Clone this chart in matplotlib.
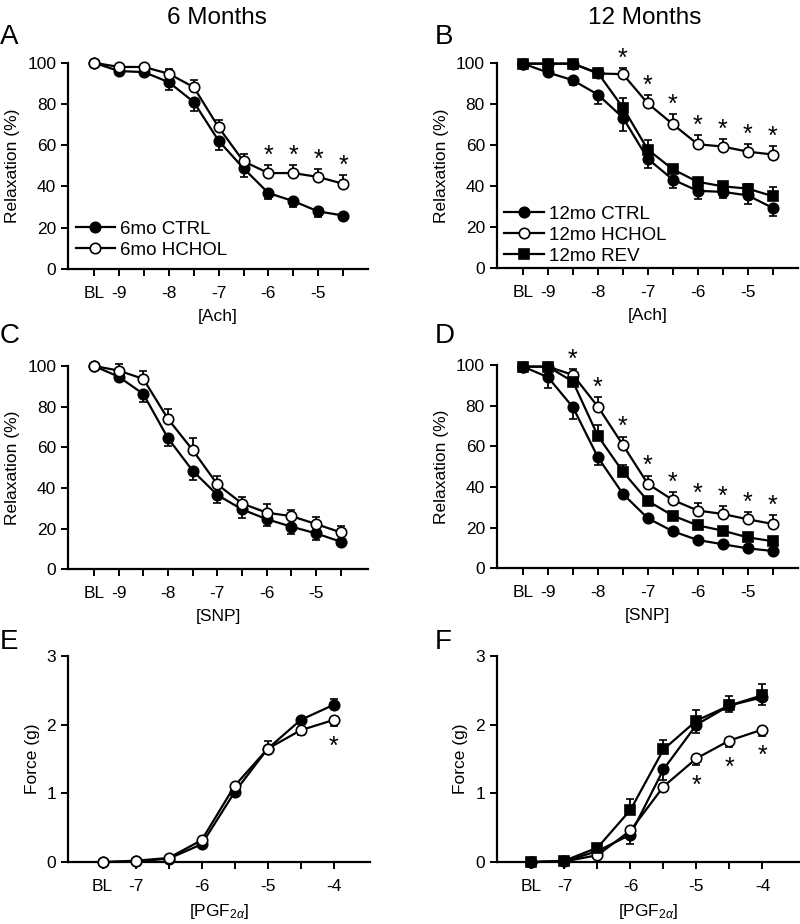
import matplotlib
matplotlib.use('Agg')
import matplotlib.pyplot as plt
import numpy as np

plt.rcParams['font.family'] = ['Liberation Sans', 'DejaVu Sans']
plt.rcParams['mathtext.fontset'] = 'custom'
plt.rcParams['mathtext.rm'] = 'Liberation Sans'
plt.rcParams['mathtext.it'] = 'Liberation Sans:italic'

# Konzentrationen (Index 0 = BL)
ach_labels = ['BL', '-9', '', '-8', '', '-7', '', '-6', '', '-5', '']
pgf_labels = ['BL', '-7', '', '-6', '', '-5', '', '-4']

# A: 6 Monate, Ach
a_ctrl = [100, 96, 95.5, 90.6, 81, 62.2, 48.8, 36.8, 32.9, 27.9, 25.9]
a_ctrl_sem = [0, 0.5, 0.8, 3.6, 4.5, 4.3, 4.2, 2.9, 2.9, 2.5, 2.1]
a_hchol = [100, 98, 98, 94.7, 88.2, 68.7, 52.2, 46.5, 46.5, 44.6, 41.3]
a_hchol_sem = [0, 0.5, 0.6, 2.5, 3.7, 3.7, 3.7, 3.7, 3.7, 3.9, 4.4]
a_sig = [7, 8, 9, 10]

# B: 12 Monate, Ach
b_ctrl = [99.6, 95.3, 91.5, 84.5, 73.3, 53.2, 43.1, 37.6, 37.1, 35.4, 29.3]
b_ctrl_sem = [0, 0.8, 2.5, 4.5, 6.3, 4.7, 4.0, 4.0, 3.0, 4.0, 4.0]
b_hchol = [99.6, 99.6, 99.6, 94.8, 94.5, 80.2, 70.1, 60.3, 59.2, 56.7, 55.3]
b_hchol_sem = [0, 0.5, 0.5, 1.5, 3.1, 4.0, 4.9, 4.7, 3.8, 3.6, 4.0]
b_rev = [99.6, 99.6, 99.6, 95.1, 78.2, 57.7, 48.1, 42.0, 39.8, 38.7, 35.0]
b_rev_sem = [0, 0.5, 0.5, 2.0, 4.8, 4.6, 2.0, 1.5, 1.3, 2.4, 4.5]
b_sig = [4, 5, 6, 7, 8, 9, 10]

# C: 6 Monate, SNP
c_ctrl = [100, 94.7, 86.2, 64.4, 48.4, 36.5, 29.4, 24.6, 20.9, 17.6, 13.5]
c_ctrl_sem = [0, 1.0, 3.8, 3.8, 4.6, 3.8, 4.1, 3.4, 3.7, 3.3, 1.0]
c_hchol = [100, 97.7, 93.6, 73.9, 58.6, 41.7, 32.3, 27.8, 26.1, 22.2, 18.1]
c_hchol_sem = [0, 3.0, 3.9, 4.8, 5.8, 4.1, 3.0, 4.2, 2.9, 3.6, 3.1]

# D: 12 Monate, SNP
d_ctrl = [99.2, 94.0, 79.2, 54.6, 36.6, 24.6, 18.2, 13.9, 11.8, 9.8, 8.5]
d_ctrl_sem = [0, 5.5, 5.8, 3.8, 1.0, 1.0, 1.0, 0.8, 0.8, 0.8, 0.8]
d_hchol = [99.2, 99.2, 95.1, 79.5, 60.7, 41.5, 33.6, 28.4, 26.7, 24.1, 21.8]
d_hchol_sem = [0, 0.5, 2.8, 4.9, 4.1, 4.1, 3.8, 3.9, 4.1, 3.4, 4.4]
d_rev = [99.2, 99.2, 91.8, 65.1, 47.5, 33.1, 25.9, 21.1, 18.5, 15.2, 13.3]
d_rev_sem = [0, 0.5, 1.0, 5.4, 3.3, 1.0, 1.0, 1.0, 1.0, 1.0, 1.0]
d_sig = [2, 3, 4, 5, 6, 7, 8, 9, 10]

# E: 6 Monate, PGF2a
e_ctrl = [0, 0.01, 0.05, 0.26, 1.02, 1.65, 2.07, 2.29]
e_ctrl_sem = [0, 0.01, 0.02, 0.03, 0.04, 0.12, 0.04, 0.09]
e_hchol = [0, 0.02, 0.06, 0.32, 1.11, 1.65, 1.92, 2.07]
e_hchol_sem = [0, 0.01, 0.02, 0.03, 0.04, 0.05, 0.07, 0.09]
e_sig = [7]

# F: 12 Monate, PGF2a
f_ctrl = [0, 0.01, 0.16, 0.40, 1.35, 2.00, 2.28, 2.40]
f_ctrl_sem = [0, 0.01, 0.03, 0.13, 0.15, 0.12, 0.10, 0.12]
f_hchol = [0, 0.01, 0.10, 0.46, 1.10, 1.51, 1.77, 1.93]
f_hchol_sem = [0, 0.01, 0.02, 0.04, 0.07, 0.10, 0.10, 0.09]
f_rev = [0, 0.02, 0.21, 0.76, 1.64, 2.06, 2.28, 2.43]
f_rev_sem = [0, 0.01, 0.03, 0.16, 0.14, 0.16, 0.14, 0.17]
f_sig = [5, 6, 7]


def kurve(ax, werte, sem, art, richtung):
    x = np.arange(len(werte))
    sem = np.array(sem)
    null = np.zeros_like(sem)
    yerr = [null, sem] if richtung == 'oben' else [sem, null]
    if art == 'ctrl':
        stil = dict(marker='o', mfc='black', mec='black', zorder=3)
    elif art == 'hchol':
        stil = dict(marker='o', mfc='white', mec='black', zorder=4)
    else:
        stil = dict(marker='s', mfc='black', mec='black', zorder=5)
    c = ax.errorbar(x, werte, yerr=yerr, color='black', lw=1.6, ms=7.5, mew=1.2,
                    capsize=3, elinewidth=1.3, capthick=1.3, clip_on=False,
                    **stil)
    return c[0]


def sterne(ax, werte, sem, idx, richtung):
    for i in idx:
        if richtung == 'oben':
            ax.annotate('*', (i, werte[i] + sem[i]), xytext=(0, -2),
                        textcoords='offset points', ha='center', va='bottom',
                        fontsize=18)
        else:
            ax.annotate('*', (i, werte[i] - sem[i]), xytext=(0, -6),
                        textcoords='offset points', ha='center', va='top',
                        fontsize=18)


def achse(ax, labels, ymax, yticks, ylabel, xlabel, xmax):
    ax.set_xlim(-1.05, xmax)
    ax.set_ylim(0, ymax)
    ax.set_xticks(np.arange(len(labels)))
    ax.set_xticklabels(labels)
    ax.set_yticks(yticks)
    ax.set_ylabel(ylabel, fontsize=12.5, labelpad=5)
    ax.set_xlabel(xlabel, fontsize=12.5, labelpad=6)
    ax.spines['top'].set_visible(False)
    ax.spines['right'].set_visible(False)
    ax.spines['left'].set_linewidth(1.6)
    ax.spines['bottom'].set_linewidth(1.6)
    ax.tick_params(width=1.4, length=5, labelsize=12.5)
    ax.tick_params(axis='x', pad=7)


def legende(ax, handles, labels, y0):
    ax.legend(handles, labels, loc='lower left', bbox_to_anchor=(0.0, y0),
              frameon=False, fontsize=13.5, handlelength=2.1,
              handletextpad=0.3, labelspacing=0.2, borderaxespad=0)


fig = plt.figure(figsize=(8, 9.24), dpi=100)
axA = fig.add_axes([0.085, 0.709, 0.375, 0.223])
axB = fig.add_axes([0.621, 0.710, 0.376, 0.222])
axC = fig.add_axes([0.085, 0.384, 0.375, 0.220])
axD = fig.add_axes([0.621, 0.385, 0.376, 0.220])
axE = fig.add_axes([0.085, 0.067, 0.3775, 0.223])
axF = fig.add_axes([0.621, 0.067, 0.3775, 0.223])

# A
h1 = kurve(axA, a_ctrl, a_ctrl_sem, 'ctrl', 'unten')
h2 = kurve(axA, a_hchol, a_hchol_sem, 'hchol', 'oben')
sterne(axA, a_hchol, a_hchol_sem, a_sig, 'oben')
achse(axA, ach_labels, 100, range(0, 101, 20), 'Relaxation (%)', '[Ach]', 11)
legende(axA, [h1, h2], ['6mo CTRL', '6mo HCHOL'], 0.012)

# B
h1 = kurve(axB, b_ctrl, b_ctrl_sem, 'ctrl', 'unten')
h2 = kurve(axB, b_hchol, b_hchol_sem, 'hchol', 'oben')
h3 = kurve(axB, b_rev, b_rev_sem, 'rev', 'oben')
sterne(axB, b_hchol, b_hchol_sem, b_sig, 'oben')
achse(axB, ach_labels, 100, range(0, 101, 20), 'Relaxation (%)', '[Ach]', 11)
legende(axB, [h1, h2, h3], ['12mo CTRL', '12mo HCHOL', '12mo REV'], -0.02)

# C
kurve(axC, c_ctrl, c_ctrl_sem, 'ctrl', 'unten')
kurve(axC, c_hchol, c_hchol_sem, 'hchol', 'oben')
achse(axC, ach_labels, 100, range(0, 101, 20), 'Relaxation (%)', '[SNP]', 11.1)

# D
kurve(axD, d_ctrl, d_ctrl_sem, 'ctrl', 'unten')
kurve(axD, d_hchol, d_hchol_sem, 'hchol', 'oben')
kurve(axD, d_rev, d_rev_sem, 'rev', 'oben')
sterne(axD, d_hchol, d_hchol_sem, d_sig, 'oben')
achse(axD, ach_labels, 100, range(0, 101, 20), 'Relaxation (%)', '[SNP]', 11)

# E
kurve(axE, e_ctrl, e_ctrl_sem, 'ctrl', 'oben')
kurve(axE, e_hchol, e_hchol_sem, 'hchol', 'unten')
sterne(axE, e_hchol, e_hchol_sem, e_sig, 'unten')
achse(axE, pgf_labels, 3, range(0, 4), 'Force (g)', r'[PGF$_{2\alpha}$]', 8.1)

# F
kurve(axF, f_ctrl, f_ctrl_sem, 'ctrl', 'unten')
kurve(axF, f_hchol, f_hchol_sem, 'hchol', 'unten')
kurve(axF, f_rev, f_rev_sem, 'rev', 'oben')
sterne(axF, f_hchol, f_hchol_sem, f_sig, 'unten')
achse(axF, pgf_labels, 3, range(0, 4), 'Force (g)', r'[PGF$_{2\alpha}$]', 8.1)

# Titel und Buchstaben
fig.text(0.271, 0.981, '6 Months', ha='center', va='center', fontsize=17.5)
fig.text(0.806, 0.981, '12 Months', ha='center', va='center', fontsize=17.5)
for buchstabe, x, y in [('A', 0.0, 0.960), ('B', 0.543, 0.960),
                        ('C', 0.0, 0.636), ('D', 0.543, 0.636),
                        ('E', 0.0, 0.305), ('F', 0.543, 0.305)]:
    fig.text(x, y, buchstabe, ha='left', va='center', fontsize=20)

plt.savefig('out.png', dpi=100)
